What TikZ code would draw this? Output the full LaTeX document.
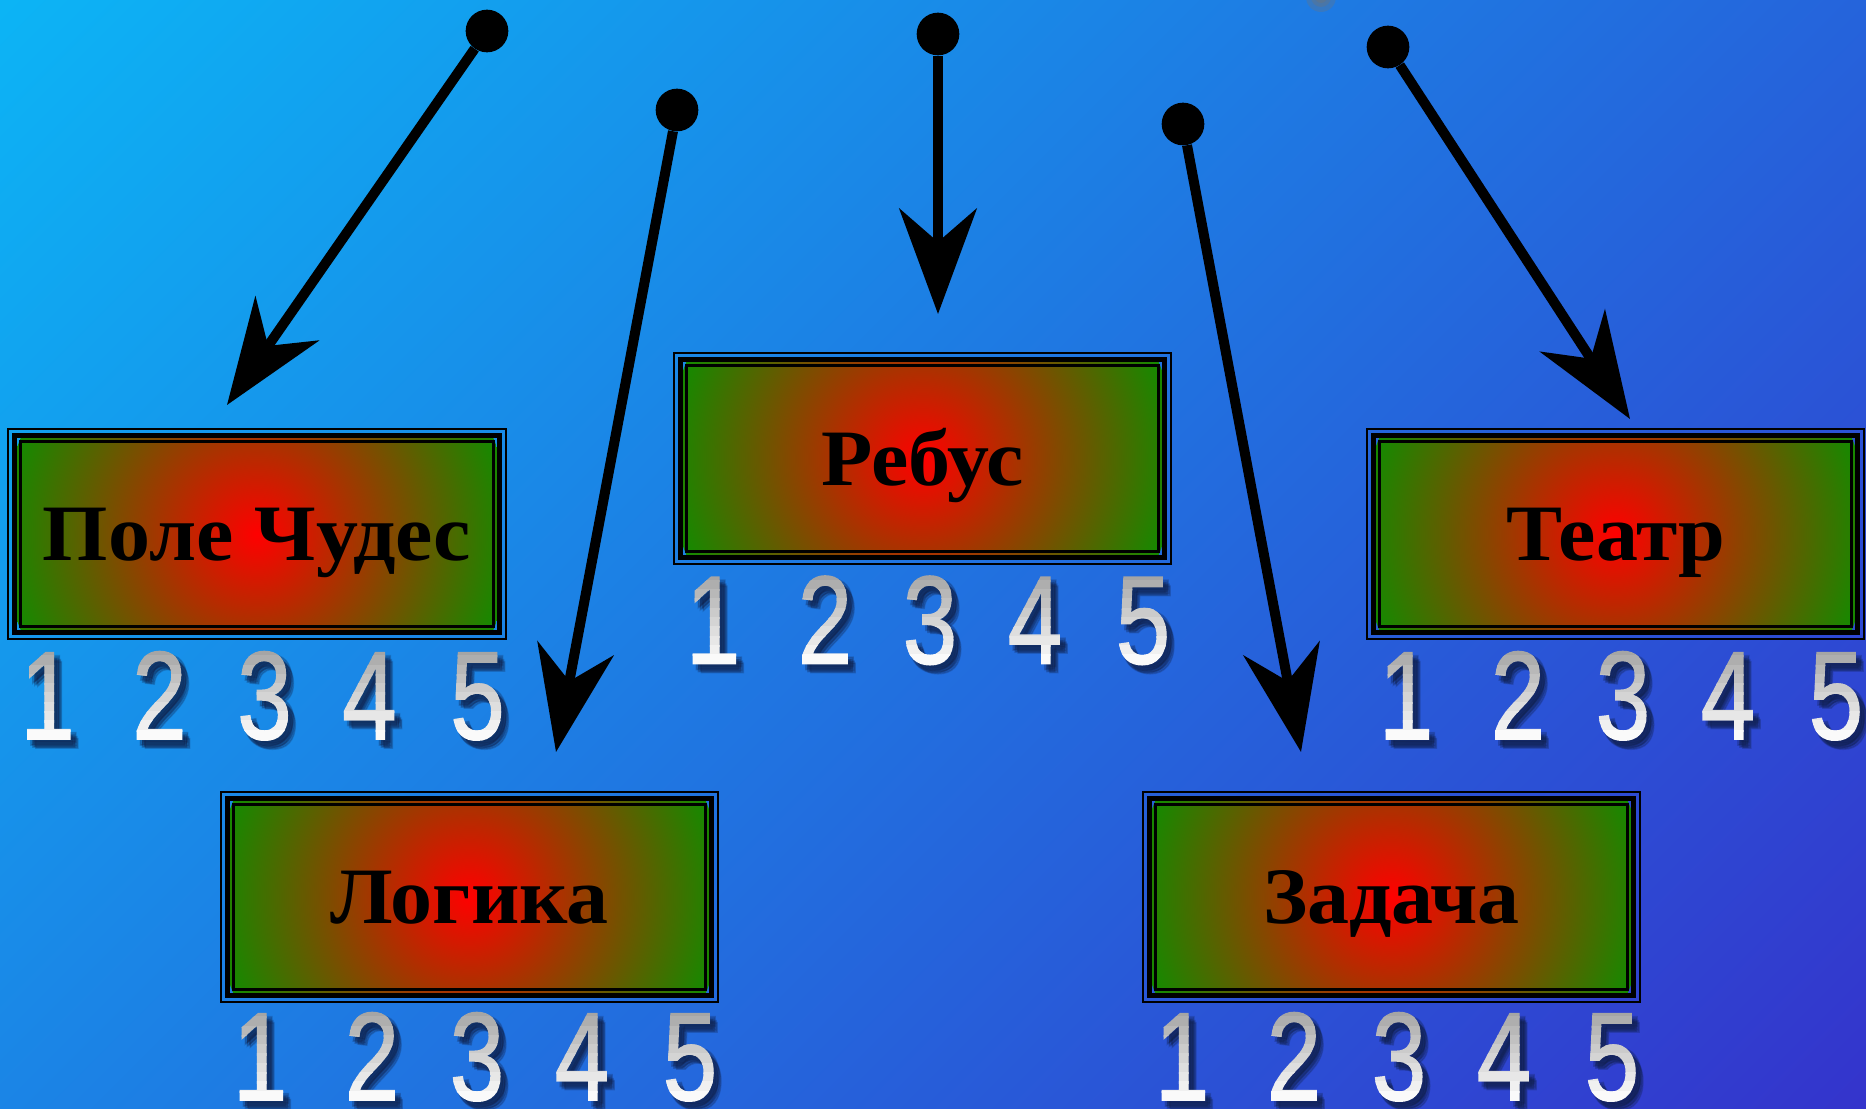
\documentclass[tikz,border=0pt]{standalone}
\usepackage{fontspec}
\usepackage{graphicx}
\usetikzlibrary{arrows.meta,calc}
\newfontfamily\boxfont{Liberation Serif}
\newfontfamily\digitfont[FakeBold=1.3]{Liberation Sans}
\definecolor{bgTL}{RGB}{12,180,245}
\definecolor{bgBR}{RGB}{52,52,204}
\definecolor{boxgreen}{RGB}{20,138,0}
\definecolor{boxred}{RGB}{255,0,0}
\definecolor{digtop}{RGB}{165,165,165}
\definecolor{digbot}{RGB}{250,250,250}
\definecolor{shadowc}{RGB}{15,30,70}
\definecolor{blobc}{RGB}{130,115,95}
\pgfdeclarehorizontalshading{bgshade}{100bp}{color(0bp)=(bgTL); color(14.64bp)=(bgTL); color(85.36bp)=(bgBR); color(100bp)=(bgBR)}

\tikzset{
  quizfill/.style={rectangle, inner sep=0pt, minimum width=359.25pt, minimum height=144pt,
    text height=40pt, text depth=0pt, font=\boxfont\bfseries\fontsize{60}{60}\selectfont,
    path picture={\shade[inner color=boxred, outer color=boxgreen] (path picture bounding box.center) circle (255);}},
  startdot/.style={circle, fill=black, minimum size=32pt, inner sep=0pt},
  pointer/.style={line width=7.5pt, -{Stealth[length=79pt,width=58pt,inset=25pt]}},
  digitglyph/.style={font=\digitfont\fontsize{94}{94}\selectfont, anchor=base, inner sep=0pt},
}

\newcommand\quizbox[4]{%
  \node[quizfill] (#1) at (#2,#3) {\scalebox{1.05}[1]{#4}};
  \draw[line width=2.25pt] ([shift={(3.5,3.5)}]#1.north west) rectangle ([shift={(-3.5,-3.5)}]#1.south east);
  \draw[line width=3.75pt] ([shift={(-2.5,-2.5)}]#1.north west) rectangle ([shift={(2.5,2.5)}]#1.south east);
  \draw[line width=1.5pt] ([shift={(-9,-9)}]#1.north west) rectangle ([shift={(9,9)}]#1.south east);
}

\newcommand\digitrow[3]{%
  \foreach \dg/\rel in {1/40,2/152,3/257,4/362,5/470}{%
    \pgfmathsetmacro\xx{#2+\rel}%
    \foreach \ox/\oy in {3/6,5/5,6/3,7/7,5/8,8/9}{%
      \node[digitglyph, text=shadowc, opacity=0.22] (#1s\dg) at (\xx+\ox,#3+\oy) {\scalebox{0.78}[1]{\dg}};}%
    \foreach \k in {0,...,9}{%
      \pgfmathsetmacro\ytop{#3-92+9.3*\k}%
      \pgfmathsetmacro\pct{100*\k/9}%
      \begin{scope}
        \clip (\xx-45,\ytop-0.6) rectangle (\xx+45,\ytop+9.9);
        \node[digitglyph, text=digbot!\pct!digtop] (#1d\dg) at (\xx,#3) {\scalebox{0.78}[1]{\dg}};
      \end{scope}}%
  }%
}

\begin{document}
\begin{tikzpicture}[x=0.75pt,y=-0.75pt]
\useasboundingbox (0,0) rectangle (1866,1109);
\shade[shading=bgshade, shading angle=-45] (0,0) rectangle (1866,1109);

% faint blurred spot at top edge
\fill[blobc, opacity=0.25] (1321,-3) circle (15);
\fill[blobc, opacity=0.25] (1321,-3) circle (10);
\fill[blobc, opacity=0.25] (1321,-3) circle (6);

% boxes
\quizbox{b1}{257}{534}{Поле Чудес}
\quizbox{b2}{922.5}{458.5}{Ребус}
\quizbox{b3}{1615.5}{534}{Театр}
\quizbox{b4}{469.5}{897}{Логика}
\quizbox{b5}{1391.5}{897}{Задача}

% digit rows
\digitrow{r1}{7.5}{739}
\digitrow{r2}{673}{663.5}
\digitrow{r3}{1366}{739}
\digitrow{r4}{220}{1100}
\digitrow{r5}{1142}{1100}

% pointers
\node[startdot] (pA) at (487,31) {};
\coordinate (tA) at (227,405);
\draw[pointer] (pA) -- (tA);

\node[startdot] (pB) at (677,110) {};
\coordinate (tB) at (556,752);
\draw[pointer] (pB) -- (tB);

\node[startdot] (pC) at (938,34) {};
\coordinate (tC) at (938,314);
\draw[pointer] (pC) -- (tC);

\node[startdot] (pD) at (1183,124) {};
\coordinate (tD) at (1301,752);
\draw[pointer] (pD) -- (tD);

\node[startdot] (pE) at (1388,47) {};
\coordinate (tE) at (1630,419);
\draw[pointer] (pE) -- (tE);
\end{tikzpicture}
\end{document}
